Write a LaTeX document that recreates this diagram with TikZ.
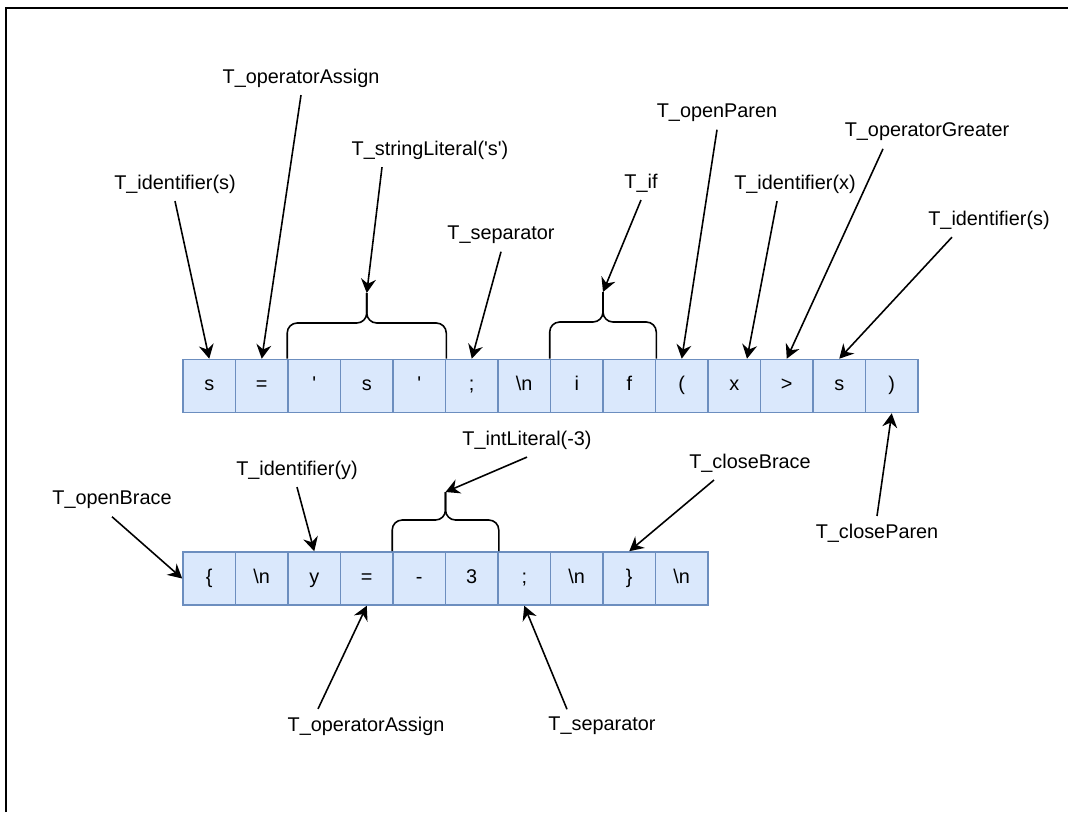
\documentclass[tikz,border=0pt]{standalone}
\usepackage{fontspec}
\setmainfont{Liberation Sans}
\usetikzlibrary{arrows.meta}
\definecolor{cellfill}{HTML}{DAE8FC}
\definecolor{celldraw}{HTML}{6C8EBF}
\tikzset{
  cell/.style={draw=celldraw, fill=cellfill, line width=0.9pt, minimum width=1.05cm, minimum height=1.06cm, inner sep=0pt, text height=0.72em, text depth=0.2em, font=\fontsize{11.3}{13.5}\selectfont},
  tok/.style={inner sep=0.15cm, font=\fontsize{11.3}{13.5}\selectfont},
  arr/.style={-{Stealth[length=8pt,width=8.5pt,inset=2.7pt]}, line width=0.9pt},
  brace/.style={line width=0.9pt, rounded corners=0.2cm}
}
\begin{document}
\begin{tikzpicture}[x=0.02cm,y=-0.02cm]
\useasboundingbox (0,0) rectangle (1068,812);
\draw[line width=1.1pt] (6,812) |- (1068,8);

% first line
\node[cell] (t0) at (209.25,386) {s};
\node[cell] (t1) at (261.75,386) {=};
\node[cell] (t2) at (314.25,386) {\textquotesingle};
\node[cell] (t3) at (366.75,386) {s};
\node[cell] (t4) at (419.25,386) {\textquotesingle};
\node[cell] (t5) at (471.75,386) {;};
\node[cell] (t6) at (524.25,386) {\textbackslash n};
\node[cell] (t7) at (576.75,386) {i};
\node[cell] (t8) at (629.25,386) {f};
\node[cell] (t9) at (681.75,386) {(};
\node[cell] (t10) at (734.25,386) {x};
\node[cell] (t11) at (786.75,386) {>};
\node[cell] (t12) at (839.25,386) {s};
\node[cell] (t13) at (891.75,386) {)};

% second line
\node[cell] (b0) at (209.25,578.5) {\{};
\node[cell] (b1) at (261.75,578.5) {\textbackslash n};
\node[cell] (b2) at (314.25,578.5) {y};
\node[cell] (b3) at (366.75,578.5) {=};
\node[cell] (b4) at (419.25,578.5) {-};
\node[cell] (b5) at (471.75,578.5) {3};
\node[cell] (b6) at (524.25,578.5) {;};
\node[cell] (b7) at (576.75,578.5) {\textbackslash n};
\node[cell] (b8) at (629.25,578.5) {\}};
\node[cell] (b9) at (681.75,578.5) {\textbackslash n};

% braces
\coordinate (bstr) at (366.75,293);
\coordinate (bif) at (603,292);
\coordinate (bint) at (445.5,492);
\draw[brace] (t2.north west) |- (366.75,323) -- (bstr);
\draw[brace] (t4.north east) |- (366.75,323) -- (bstr);
\draw[brace] (t7.north west) |- (603,322) -- (bif);
\draw[brace] (t8.north east) |- (603,322) -- (bif);
\draw[brace] (b4.north west) |- (445.5,520) -- (bint);
\draw[brace] (b5.north east) |- (445.5,520) -- (bint);

% token names
\node[tok] (lid) at (175,184) {T\_identifier(s)};
\node[tok] (lassign) at (301,78) {T\_operatorAssign};
\node[tok] (lstr) at (430,150) {T\_stringLiteral(\textquotesingle s\textquotesingle)};
\node[tok] (lsep) at (501,235) {T\_separator};
\node[tok] (lif) at (641,183) {T\_if};
\node[tok] (lopen) at (717,113) {T\_openParen};
\node[tok] (lidx) at (795,184) {T\_identifier(x)};
\node[tok] (lgt) at (927,132) {T\_operatorGreater};
\node[tok] (lids) at (989,220) {T\_identifier(s)};
\node[tok] (lclose) at (877,533) {T\_closeParen};
\node[tok] (lob) at (112,500) {T\_openBrace};
\node[tok] (lidy) at (297,470) {T\_identifier(y)};
\node[tok] (lint) at (527,440) {T\_intLiteral(-3)};
\node[tok] (lcb) at (750,463) {T\_closeBrace};
\node[tok] (lassignb) at (366,726) {T\_operatorAssign};
\node[tok] (lsepb) at (602,726) {T\_separator};

\draw[arr] (lid.south) -- (t0.north);
\draw[arr] (lassign.south) -- (t1.north);
\draw[arr] ([xshift=-0.96cm]lstr.south) -- (bstr);
\draw[arr] (lsep.south) -- (t5.north);
\draw[arr] (lif.south) -- (bif);
\draw[arr] (lopen.south) -- (t9.north);
\draw[arr] ([xshift=-0.36cm]lidx.south) -- ([xshift=0.255cm]t10.north);
\draw[arr] ([xshift=-0.88cm]lgt.south) -- (t11.north);
\draw[arr] ([xshift=-0.74cm]lids.south) -- (t12.north);
\draw[arr] (lclose.north) -- (t13.south);
\draw[arr] (lob.south) -- (b0.west);
\draw[arr] (lidy.south) -- (b2.north);
\draw[arr] (lint.south) -- (bint);
\draw[arr] ([xshift=-0.72cm]lcb.south) -- (b8.north);
\draw[arr] ([xshift=-0.96cm]lassignb.north) -- (b3.south);
\draw[arr] ([xshift=-0.7cm]lsepb.north) -- (b6.south);
\end{tikzpicture}
\end{document}
